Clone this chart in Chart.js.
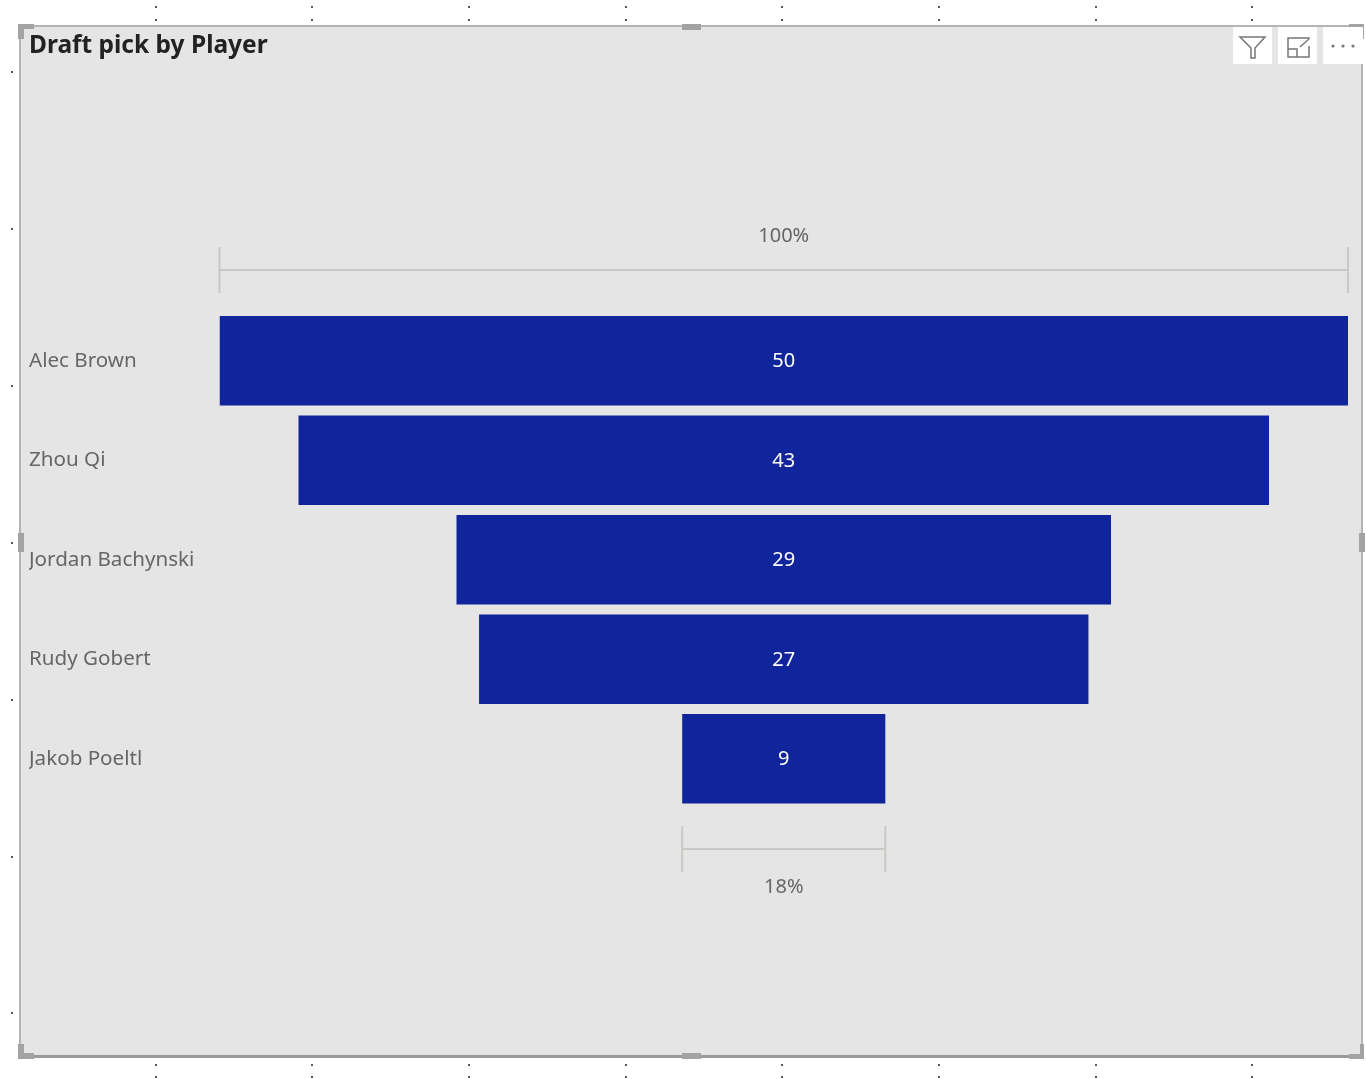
<!DOCTYPE html>
<html>
<head>
<meta charset="utf-8">
<title>Draft pick by Player</title>
<script src="https://cdn.jsdelivr.net/npm/chart.js@4"></script>
<style>
	html, body { margin: 0; padding: 0; background: #fff; }
	canvas { display: block; }
</style>
</head>
<body>
<canvas id="funnel" width="1366" height="1079"></canvas>
<script>
const players = ['Alec Brown', 'Zhou Qi', 'Jordan Bachynski', 'Rudy Gobert', 'Jakob Poeltl'];
const draftPicks = [50, 43, 29, 27, 9];
const topPercent = '100%';
const bottomPercent = '18%';

const labelFont = '"Noto Sans", sans-serif';
const maxPick = Math.max(...draftPicks);

// Visual frame, handles, grid dots and header icons
const framePlugin = {
	id: 'frame',
	beforeDraw(chart) {
		const c = chart.ctx;
		c.save();
		c.fillStyle = '#e5e5e5';
		c.fillRect(20, 26, 1342, 1030);
		c.strokeStyle = '#b4b4b4';
		c.lineWidth = 2;
		c.strokeRect(20, 26, 1342, 1030);
		c.fillStyle = '#9a9a9a';
		c.fillRect(20, 1055, 1342, 3);

		c.fillStyle = '#555';
		[156, 312, 469, 626, 782, 939, 1096, 1252].forEach((x) => {
			[7, 20, 1065, 1077].forEach((y) => c.fillRect(x - 1, y - 1, 2, 2));
		});
		[72, 229, 386, 543, 700, 857, 1013].forEach((y) => c.fillRect(11, y - 1, 2, 2));

		c.fillStyle = '#a3a3a3';
		// corners
		c.fillRect(18, 24, 16, 5); c.fillRect(18, 24, 6, 15);
		c.fillRect(1349, 24, 15, 5); c.fillRect(1360, 24, 4, 15);
		c.fillRect(18, 1053, 16, 6); c.fillRect(18, 1044, 6, 15);
		c.fillRect(1349, 1054, 15, 5); c.fillRect(1360, 1044, 4, 15);
		// mid handles
		c.fillRect(682, 24, 19, 6); c.fillRect(682, 1053, 19, 6);
		c.fillRect(18, 533, 6, 19); c.fillRect(1359, 533, 6, 19);

		// header icons
		c.fillStyle = '#fff';
		c.fillRect(1233, 27, 39, 37);
		c.fillRect(1278, 27, 39, 37);
		c.fillRect(1323, 27, 40, 37);
		c.strokeStyle = '#777';
		c.lineWidth = 1.5;
		c.beginPath();
		c.moveTo(1240, 37); c.lineTo(1265, 37); c.lineTo(1255, 48); c.lineTo(1255, 58);
		c.lineTo(1251, 58); c.lineTo(1251, 48); c.closePath();
		c.stroke();
		c.beginPath();
		c.moveTo(1309, 39); c.lineTo(1309, 38); c.lineTo(1288, 38); c.lineTo(1288, 57); c.lineTo(1309, 57); c.lineTo(1309, 46);
		c.moveTo(1288, 49); c.lineTo(1297, 49); c.lineTo(1297, 57);
		c.moveTo(1300, 47); c.lineTo(1309, 39);
		c.stroke();
		c.fillStyle = '#777';
		[1333, 1343, 1353].forEach((x) => {
			c.beginPath();
			c.arc(x, 46, 1.6, 0, Math.PI * 2);
			c.fill();
		});
		c.restore();
	}
};

// Value labels in the bars and the two percent brackets
const funnelPlugin = {
	id: 'funnelLabels',
	afterDatasetsDraw(chart) {
		const c = chart.ctx;
		const xs = chart.scales.x;
		c.save();
		c.textAlign = 'center';
		c.textBaseline = 'middle';
		c.font = '20px ' + labelFont;
		c.fillStyle = '#fff';
		chart.getDatasetMeta(0).data.forEach((bar, i) => {
			c.fillText(String(draftPicks[i]), xs.getPixelForValue(0), bar.y + 1);
		});

		function bracket(halfValue, y, text, textY) {
			const left = xs.getPixelForValue(-halfValue);
			const right = xs.getPixelForValue(halfValue);
			c.strokeStyle = '#c8c8c4';
			c.lineWidth = 2;
			c.beginPath();
			c.moveTo(left, y - 23); c.lineTo(left, y + 23);
			c.moveTo(right, y - 23); c.lineTo(right, y + 23);
			c.moveTo(left, y); c.lineTo(right, y);
			c.stroke();
			c.fillStyle = '#666';
			c.fillText(text, (left + right) / 2, textY);
		}
		bracket(draftPicks[0] / 2, 270, topPercent, 236);
		bracket(draftPicks[draftPicks.length - 1] / 2, 849, bottomPercent, 887);
		c.restore();
	}
};

new Chart(document.getElementById('funnel'), {
	type: 'bar',
	data: {
		labels: players,
		datasets: [
			{
				label: 'Draft pick',
				data: draftPicks.map((v) => [-v / 2, v / 2]),
				backgroundColor: '#10259b',
				barPercentage: 0.9,
				categoryPercentage: 1
			}
		]
	},
	plugins: [framePlugin, funnelPlugin],
	options: {
		indexAxis: 'y',
		responsive: false,
		animation: false,
		devicePixelRatio: 1,
		layout: { padding: { left: 29, right: 18, top: 28, bottom: 270.5 } },
		plugins: {
			legend: { display: false },
			tooltip: { enabled: false },
			title: {
				display: true,
				text: 'Draft pick by Player',
				align: 'start',
				color: '#222',
				font: { family: labelFont, size: 24.5, weight: 'bold', lineHeight: 1.2 },
				padding: { top: 3, bottom: 250.6 }
			}
		},
		scales: {
			x: {
				display: false,
				min: -maxPick / 2,
				max: maxPick / 2
			},
			y: {
				grid: { display: false },
				border: { display: false },
				afterFit(axis) { axis.width = 190.5; },
				ticks: {
					crossAlign: 'far',
					color: '#666',
					font: { family: labelFont, size: 20.6 },
					padding: 0
				}
			}
		}
	}
});
</script>
</body>
</html>
